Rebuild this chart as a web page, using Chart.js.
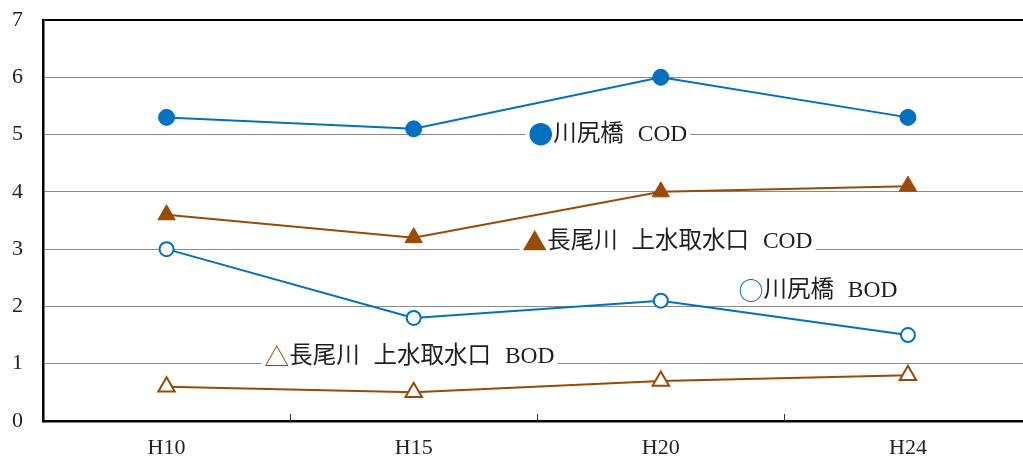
<!DOCTYPE html>
<html lang="ja">
<head>
<meta charset="utf-8">
<title>水質の推移</title>
<script src="https://cdn.jsdelivr.net/npm/chart.js@4"></script>
<style>
  html, body { margin: 0; padding: 0; background: #fff; overflow: hidden; }
  #chart { display: block; }
</style>
</head>
<body>
<canvas id="chart" width="1043" height="459"></canvas>
<script>
// 年度
const categories = ['H10', 'H15', 'H20', 'H24'];
// 測定値 (mg/L)
const kawashiriCOD = [5.3, 5.1, 6.0, 5.3];
const nagaoCOD = [3.6, 3.2, 4.0, 4.1];
const kawashiriBOD = [3.0, 1.8, 2.1, 1.5];
const nagaoBOD = [0.6, 0.5, 0.7, 0.8];
// 縦軸目盛
const yTicks = [0, 1, 2, 3, 4, 5, 6, 7];

const BLUE = '#0070C0';
const BROWN = '#9A4A06';
const SERIF = "'Liberation Serif', 'DejaVu Serif', 'Noto Sans CJK JP', serif";
const CJK = "'Noto Sans CJK JP', sans-serif";

// 系列名の注記 (記号 + 名称)
const seriesNotes = [
  { mark: '●', color: BLUE,  text: '川尻橋 COD',           at: [1.464, 5.01] },
  { mark: '▲', color: BROWN, text: '長尾川 上水取水口 COD', at: [1.439, 3.15] },
  { mark: '○', color: BLUE,  text: '川尻橋 BOD',           at: [2.314, 2.287] },
  { mark: '△', color: BROWN, text: '長尾川 上水取水口 BOD', at: [0.395, 1.135] }
];

const notesPlugin = {
  id: 'seriesNotes',
  afterDatasetsDraw(chart) {
    const { ctx, scales: { x, y } } = chart;
    const step = x.getPixelForValue(1) - x.getPixelForValue(0);
    const markFont = '25px ' + CJK;
    const textFont = '23.5px ' + SERIF;
    ctx.save();
    ctx.textBaseline = 'middle';
    ctx.textAlign = 'left';
    seriesNotes.forEach(n => {
      const left = x.getPixelForValue(0) + n.at[0] * step;
      const cy = y.getPixelForValue(n.at[1]);
      ctx.wordSpacing = '0px';
      ctx.font = markFont;
      const mw = ctx.measureText(n.mark).width;
      ctx.font = textFont;
      ctx.wordSpacing = '8px';
      const tw = ctx.measureText(n.text).width;
      ctx.fillStyle = '#fff';
      ctx.fillRect(left - 3, cy - 19, mw + tw + 6, 34);
      ctx.wordSpacing = '0px';
      ctx.font = markFont;
      ctx.fillStyle = n.color;
      ctx.fillText(n.mark, left, cy + 1);
      ctx.font = textFont;
      ctx.wordSpacing = '8px';
      ctx.fillStyle = '#1e1e1e';
      ctx.fillText(n.text, left + mw, cy + 1);
    });
    ctx.restore();
  },
  afterDraw(chart) {
    // 横軸の区切り目盛 (内向き)
    const { ctx, scales: { x }, chartArea } = chart;
    ctx.save();
    ctx.strokeStyle = '#333';
    ctx.lineWidth = 1;
    for (let i = 0; i < categories.length - 1; i++) {
      const px = Math.round((x.getPixelForValue(i) + x.getPixelForValue(i + 1)) / 2) + 0.5;
      ctx.beginPath();
      ctx.moveTo(px, chartArea.bottom);
      ctx.lineTo(px, chartArea.bottom - 7);
      ctx.stroke();
    }
    ctx.restore();
  }
};

const lineSet = (label, data, color, style, radius, filled) => ({
  label,
  data,
  borderColor: color,
  borderWidth: 2,
  tension: 0,
  pointStyle: style,
  pointRadius: radius,
  pointHoverRadius: radius,
  pointBackgroundColor: filled ? color : '#fff',
  pointBorderColor: color,
  pointBorderWidth: filled ? 1 : 2
});

new Chart(document.getElementById('chart'), {
  type: 'line',
  data: {
    labels: categories,
    datasets: [
      lineSet('川尻橋 COD', kawashiriCOD, BLUE, 'circle', 8, true),
      lineSet('長尾川 上水取水口 COD', nagaoCOD, BROWN, 'triangle', 10, true),
      lineSet('川尻橋 BOD', kawashiriBOD, BLUE, 'circle', 7, false),
      lineSet('長尾川 上水取水口 BOD', nagaoBOD, BROWN, 'triangle', 9.5, false)
    ]
  },
  options: {
    responsive: false,
    animation: false,
    devicePixelRatio: 1,
    layout: { padding: { top: 20, left: 0, right: 0, bottom: 0 } },
    plugins: { legend: { display: false }, tooltip: { enabled: false } },
    scales: {
      x: {
        offset: true,
        grid: { display: true, drawOnChartArea: false, drawTicks: false, offset: true },
        border: { color: '#000', width: 2.5 },
        ticks: { font: { family: SERIF, size: 22 }, color: '#222', padding: 14 },
        afterFit: s => { s.height = 38; s.paddingLeft = 0; s.paddingRight = 0; }
      },
      y: {
        min: 0,
        max: 7,
        afterBuildTicks: s => { s.ticks = yTicks.map(v => ({ value: v })); },
        grid: {
          drawTicks: false,
          color: c => (c.tick && c.tick.value === 7 ? '#000' : '#8a8a8a'),
          lineWidth: c => (c.tick && c.tick.value === 7 ? 2 : 1)
        },
        border: { color: '#000', width: 2.5 },
        ticks: { font: { family: SERIF, size: 22 }, color: '#222', padding: 20 },
        afterFit: s => { s.width = 43; s.paddingTop = 0; s.paddingBottom = 0; }
      }
    }
  },
  plugins: [notesPlugin]
});
</script>
</body>
</html>
